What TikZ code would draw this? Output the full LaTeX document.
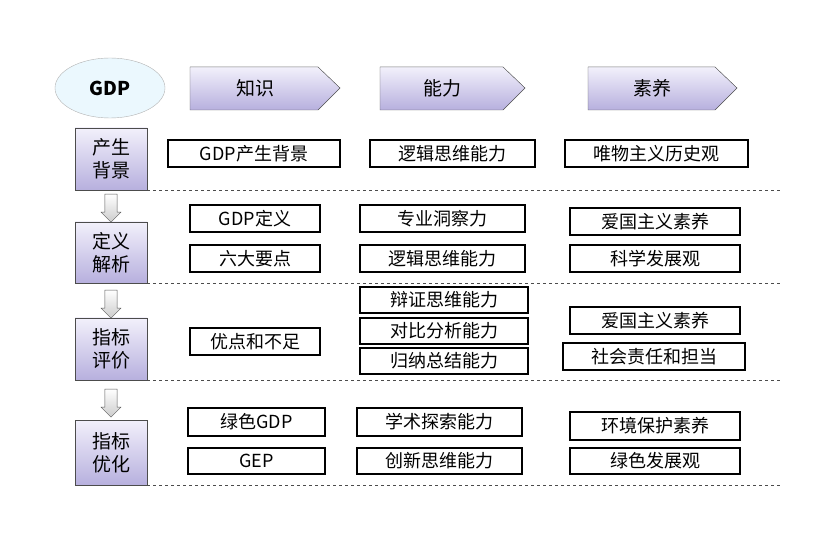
\documentclass[tikz,border=0pt]{standalone}
\usepackage{fontspec}
\setmainfont{Noto Sans CJK SC}
\usetikzlibrary{shapes.geometric,shapes.arrows}
\definecolor{lav}{HTML}{B7B0DE}
\definecolor{lavl}{HTML}{F2F0FB}
\begin{document}
\begin{tikzpicture}[x=1pt,y=-1pt,
 hdr/.style={draw=gray!70!black,top color=lavl,bottom color=lav},
 side/.style={draw=gray!60!black,top color=lavl,bottom color=lav,minimum width=72pt,font=\fontsize{19}{23}\selectfont,align=center,inner sep=2pt},
 bx/.style={draw=black,line width=1.4pt,font=\fontsize{18}{18}\selectfont,inner sep=0pt},
 dl/.style={dashed,gray!60!black,line width=0.8pt},
 da/.style={single arrow,draw=gray!70!black,top color=white,bottom color=gray!40,shape border rotate=270,minimum height=28pt,minimum width=20pt,single arrow head extend=2pt,inner sep=3pt}]
\useasboundingbox (0,0) rectangle (831,540);
\node[ellipse,draw=gray!60,fill=cyan!8,minimum width=110pt,minimum height=60pt,font=\fontsize{19}{20}\selectfont\bfseries] (g) at (110,88) {GDP};
\foreach \n/\a/\b/\t in {h1/190/340/知识,h2/380/525/能力,h3/588/737/素养}{
 \fill[hdr] (\a,67) -- (\b-22,67) -- (\b,88) -- (\b-22,110) -- (\a,110) -- cycle;
 \node (\n) at ({(\a+\b)/2-10},88) {\fontsize{19}{20}\selectfont\t};}
\node[side,minimum height=62pt] (s1) at (111,159) {产生\\背景};
\node[side,minimum height=61pt] (s2) at (111,252.5) {定义\\解析};
\node[side,minimum height=62pt] (s3) at (111,349) {指标\\评价};
\node[side,minimum height=65pt] (s4) at (111,452.5) {指标\\优化};
\node[da] (a1) at (111,205) {};
\node[da] (a2) at (111,301) {};
\node[da] (a3) at (111,400) {};
\foreach \y in {190,283,380,485}{\draw[dl] (147,\y) -- (782,\y);}
\newcommand\B[6]{\node[bx,minimum width=#3-#2,minimum height=#5-#4] (#1) at ({(#2+#3)/2},{(#4+#5)/2}) {#6};}
\B{k1}{168}{340}{140}{167}{GDP产生背景}
\B{k2}{190}{320}{205}{232}{GDP定义}
\B{k3}{190}{320}{245}{272}{六大要点}
\B{k4}{190}{320}{328}{355}{优点和不足}
\B{k5}{188}{325}{408}{436}{绿色GDP}
\B{k6}{188}{325}{448}{474}{GEP}
\B{n1}{370}{535}{140}{167}{逻辑思维能力}
\B{n2}{360}{525}{205}{232}{专业洞察力}
\B{n3}{360}{525}{245}{272}{逻辑思维能力}
\B{n4}{360}{528}{287}{313}{辩证思维能力}
\B{n5}{360}{528}{318}{344}{对比分析能力}
\B{n6}{360}{528}{348}{374}{归纳总结能力}
\B{n7}{357}{522}{408}{436}{学术探索能力}
\B{n8}{357}{522}{448}{474}{创新思维能力}
\B{m1}{565}{748}{140}{167}{唯物主义历史观}
\B{m2}{570}{740}{208}{235}{爱国主义素养}
\B{m3}{570}{740}{245}{272}{科学发展观}
\B{m4}{570}{740}{307}{334}{爱国主义素养}
\B{m5}{563}{745}{343}{370}{社会责任和担当}
\B{m6}{570}{740}{412}{440}{环境保护素养}
\B{m7}{570}{740}{448}{474}{绿色发展观}
\end{tikzpicture}
\end{document}
